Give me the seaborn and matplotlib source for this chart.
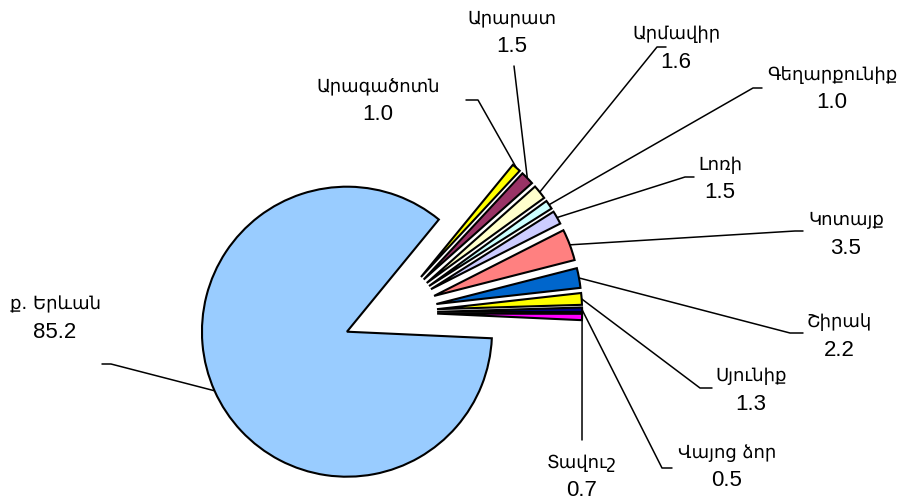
import numpy as np
import matplotlib
matplotlib.use("Agg")
import matplotlib.pyplot as plt
import seaborn as sns

# Տվյալներ՝ մարզերի տեսակարար կշիռը (%)
regions = ["ք. Երևան", "Արագածոտն", "Արարատ", "Արմավիր", "Գեղարքունիք", "Լոռի",
           "Կոտայք", "Շիրակ", "Սյունիք", "Վայոց ձոր", "Տավուշ"]
shares = [85.2, 1.0, 1.5, 1.6, 1.0, 1.5, 3.5, 2.2, 1.3, 0.5, 0.7]
colors = ["#99CCFF", "#FFFF00", "#993366", "#FFFFCC", "#CCFFFF", "#CCCCFF",
          "#FF8080", "#0066CC", "#FFFF00", "#000080", "#FF00FF"]

# layout (pixels from the top-left corner of the 904x500 image)
W, H = 904, 500
CX, CY, R = 390, 312.5, 145
label_pos = [(55, 318), (378, 100), (512, 32), (676, 48), (832, 89), (720, 179),
             (846, 234), (839, 336), (751, 390), (727, 467), (582, 477)]
elbows = [(111, 364), (478, 100), (514, 66), (657, 47), (753, 88), (685, 177),
          (795, 231), (790, 333), (700, 388), (662, 468), (582, 440)]
ends = [(102, 364), (466, 100), None, (666, 47), (762, 88), (694, 177),
        (803, 231), (803, 333), (712, 388), (672, 468), None]


def px(x, y):
    return (x - CX) / R, (CY - y) / R


sns.set_theme(style="white")
plt.rcParams['font.family'] = ['Liberation Sans', 'DejaVu Sans']

fig = plt.figure(figsize=(W / 100, H / 100), dpi=100)
ax = fig.add_axes([0, 0, 1, 1])

wedges, _ = ax.pie(shares, colors=colors, explode=[0.325] * len(shares),
                   startangle=-2.6, counterclock=False, radius=1,
                   wedgeprops=dict(edgecolor="black", linewidth=1.5))

for w, name, val, lp, el, en in zip(wedges, regions, shares, label_pos, elbows, ends):
    mid = np.deg2rad((w.theta1 + w.theta2) / 2)
    sx = w.center[0] + w.r * np.cos(mid)
    sy = w.center[1] + w.r * np.sin(mid)
    pts = [(sx, sy), px(*el)]
    if en is not None:
        pts.append(px(*en))
    xs, ys = zip(*pts)
    ax.plot(xs, ys, color="black", linewidth=1.1, zorder=0.5)
    nx, ny = px(lp[0], lp[1] - 14)
    vx, vy = px(lp[0], lp[1] + 14)
    ax.text(nx, ny, name, ha="center", va="center", fontsize=13, color="black",
            family=['DejaVu Sans'])
    ax.text(vx, vy, f"{val:.1f}", ha="center", va="center", fontsize=16, color="black")

x0, y0 = px(0, H)
x1, y1 = px(W, 0)
ax.set_xlim(x0, x1)
ax.set_ylim(y0, y1)
ax.set_aspect("equal", adjustable="datalim")
ax.axis("off")

plt.savefig("out.png", dpi=100, facecolor="white")
plt.close()
